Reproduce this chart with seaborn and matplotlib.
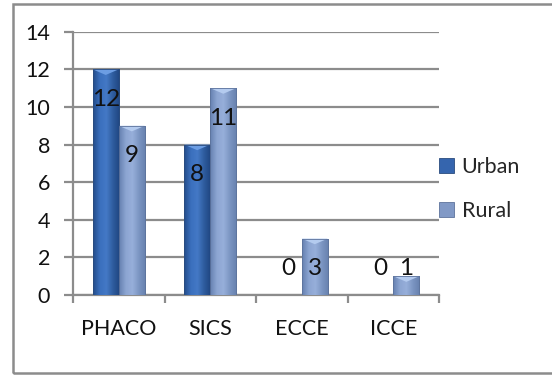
import numpy as np
import pandas as pd
import matplotlib
matplotlib.use("Agg")
import matplotlib.pyplot as plt
import seaborn as sns
from matplotlib.patches import Rectangle, Polygon
from matplotlib.colors import LinearSegmentedColormap

# Cataract surgery counts by technique and setting
procedures = ["PHACO", "SICS", "ECCE", "ICCE"]
urban = [12, 8, 0, 0]
rural = [9, 11, 3, 1]
series = ["Urban", "Rural"]

df = pd.DataFrame({
    "procedure": procedures * 2,
    "count": urban + rural,
    "area": [series[0]] * len(procedures) + [series[1]] * len(procedures),
})

sns.set_theme(style="white")
plt.rcParams["font.family"] = ["Lato", "DejaVu Sans"]

fig = plt.figure(figsize=(5.52, 3.75), dpi=100)
ax = fig.add_axes([73 / 552, 1 - 295 / 375, (439 - 73) / 552, (295 - 31.7) / 375])

base_cols = {"Urban": "#3565AE", "Rural": "#8199C6"}
sns.barplot(data=df, x="procedure", y="count", hue="area", hue_order=series,
            palette=base_cols, width=0.57, gap=0, ax=ax, legend=False,
            edgecolor="none", saturation=1, zorder=3)

# Cylinder-like shading and bevelled tops on each bar
shades = {
    "Urban": ["#234C8A", "#3A6FBD", "#4479C6", "#2E5C9E", "#1F4580"],
    "Rural": ["#6580B0", "#8CA5D2", "#97AFDA", "#7B95C2", "#6680AE"],
}
tops = {"Urban": "#6C9DE3", "Rural": "#B4CBEF"}
edges = {"Urban": "#2B4C7E", "Rural": "#5D739C"}
for i, name in enumerate(series):
    cont = ax.containers[i]
    cmap = LinearSegmentedColormap.from_list(name, shades[name])
    grad = np.linspace(0, 1, 64).reshape(1, -1)
    for bar in cont:
        x0, w, h = bar.get_x(), bar.get_width(), bar.get_height()
        if h <= 0:
            continue
        im = ax.imshow(grad, cmap=cmap, aspect="auto",
                       extent=(x0, x0 + w, 0, h), zorder=3.1)
        im.set_clip_path(bar)
        bev = 0.3
        tri = Polygon([(x0, h), (x0 + w, h), (x0 + w / 2, h - bev)],
                      closed=True, facecolor=tops[name], edgecolor="none",
                      zorder=3.2)
        ax.add_patch(tri)
        ax.add_patch(Rectangle((x0, 0), w, h, fill=False,
                               edgecolor=edges[name], lw=0.6, zorder=3.3))

# Value labels, sitting just inside the top of each bar
for i, vals in enumerate([urban, rural]):
    for bar, v in zip(ax.containers[i], vals):
        cx = bar.get_x() + bar.get_width() / 2
        ax.text(cx, max(v, 3) - 1.6, f"{v}", ha="center", va="center",
                fontsize=17.5, color="#111111", zorder=5)

ax.set_xlim(-0.5, len(procedures) - 0.5)
ax.set_ylim(0, 14)
ax.set_yticks(range(0, 15, 2))
ax.set_xlabel("")
ax.set_ylabel("")
ax.grid(axis="y", color="#8C8C8C", lw=1.6, zorder=0)
ax.set_axisbelow(True)
for s in ["top", "right"]:
    ax.spines[s].set_visible(False)
for s in ["left", "bottom"]:
    ax.spines[s].set_color("#8C8C8C")
    ax.spines[s].set_linewidth(1.6)

ax.tick_params(axis="y", left=True, length=6.5, width=1.6, color="#8C8C8C",
               pad=10, labelsize=15.5, labelcolor="#111111")
ax.set_xticks(np.arange(-0.5, len(procedures), 1.0), minor=True)
ax.tick_params(axis="x", which="major", length=0, pad=17, labelsize=15.5,
               labelcolor="#111111")
ax.tick_params(axis="x", which="minor", bottom=True, length=6, width=1.6,
               color="#8C8C8C")

# Legend to the right of the plot area
handles = [Rectangle((0, 0), 1, 1, facecolor=base_cols[n],
                     edgecolor=edges[n], lw=0.6)
           for n in series]
fig.legend(handles, series, loc="center left",
           bbox_to_anchor=(439 / 552, 1 - 189 / 375), frameon=False,
           fontsize=15.5, handlelength=0.7, handleheight=0.7,
           handletextpad=0.35, labelspacing=1.1, borderpad=0, borderaxespad=0)

# Chart frame
fig.patches.append(Rectangle((13 / 552, 2 / 375), 1.0, 369 / 375,
                             transform=fig.transFigure, fill=False,
                             edgecolor="#8C8C8C", lw=1.8))

fig.savefig("out.png", dpi=100)
